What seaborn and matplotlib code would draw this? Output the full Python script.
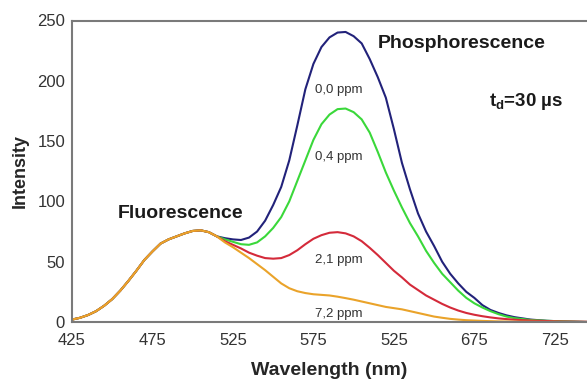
import matplotlib
matplotlib.use('Agg')
import matplotlib.pyplot as plt
import numpy as np
import pandas as pd
import seaborn as sns

sns.set_style('white')
plt.rcParams['font.family'] = ['Liberation Sans', 'DejaVu Sans']
plt.rcParams['mathtext.fontset'] = 'custom'
plt.rcParams['mathtext.rm'] = 'Liberation Sans'
plt.rcParams['mathtext.bf'] = 'Liberation Sans:bold'

# wavelength grid (nm)
wavelength = [425, 430, 435, 440, 445, 450, 455, 460, 465, 470, 475, 480, 485, 490,
              495, 500, 505, 510, 515, 520, 525, 530, 535, 540, 545, 550, 555, 560,
              565, 570, 575, 580, 585, 590, 595, 600, 605, 610, 615, 620, 625, 630,
              635, 640, 645, 650, 655, 660, 665, 670, 675, 680, 685, 690, 695, 700,
              710, 720, 730, 745]

# shared fluorescence band, 425..515 nm
fluor = [2, 3.5, 5.8, 9, 13.5, 19, 26, 34, 42.5, 51.5, 58.5, 65, 68.5, 71,
         73.5, 75.5, 76, 74.5, 71]

ppm_0_0 = fluor + [69.5, 68.5, 68, 70, 75, 84, 97, 112, 134, 163, 193, 214, 228, 236,
                   240, 240.5, 237, 231, 218, 203, 186, 160, 132, 110, 90, 75, 63, 50,
                   40, 32, 25, 20, 14, 10, 7.5, 5.5, 4, 2, 1, 0.5, 0]
ppm_0_4 = fluor + [68.5, 66.5, 64.5, 64, 66, 71, 78, 87, 100, 117, 134, 151, 164, 172,
                   176.5, 177, 174, 168, 157, 141, 124, 109, 95, 82, 71, 59, 49, 40,
                   33, 26, 20, 15.5, 12, 9, 6.5, 4.5, 3.2, 1.7, 1, 0.5, 0]
ppm_2_1 = fluor + [67, 64, 61, 57.5, 55, 53, 52.5, 53, 55.5, 59.5, 64.5, 69, 72, 74,
                   74.5, 73.5, 71, 67, 61.5, 55.5, 49, 42.5, 37, 31, 26.5, 22, 18.5, 15,
                   12, 9.5, 7.5, 6, 4.8, 3.8, 3, 2.4, 1.9, 1.2, 0.8, 0.4, 0.2]
ppm_7_2 = fluor + [66, 62, 57.5, 53, 48, 43, 37.5, 32, 28, 25.5, 24, 23, 22.5, 22,
                   21, 19.8, 18.5, 17, 15.5, 14, 12.5, 11.5, 10.5, 9, 7.5, 6, 4.5, 3.5,
                   2.6, 2, 1.5, 1.2, 0.9, 0.7, 0.5, 0.4, 0.3, 0.2, 0.1, 0.1, 0]

series_names = ['0,0 ppm', '0,4 ppm', '2,1 ppm', '7,2 ppm']
series_values = [ppm_0_0, ppm_0_4, ppm_2_1, ppm_7_2]
colors = ['#22227a', '#3ad83a', '#d42a3a', '#eaa32a']

x_ticks = [425, 475, 525, 575, 625, 675, 725]
x_tick_labels = ['425', '475', '525', '575', '525', '675', '725']
y_ticks = [0, 50, 100, 150, 200, 250]

df = pd.concat([pd.DataFrame({'wavelength': wavelength, 'intensity': v, 'series': n})
                for n, v in zip(series_names, series_values)], ignore_index=True)

fig = plt.figure(figsize=(5.87, 3.8), dpi=100)
ax = fig.add_axes([72 / 587, 58 / 380, 1 - 72 / 587, 301.5 / 380])
sns.lineplot(data=df, x='wavelength', y='intensity', hue='series',
             hue_order=series_names, palette=colors, linewidth=1.5,
             legend=False, ax=ax)

ax.set_xlim(425, 745)
ax.set_ylim(0, 250)
ax.set_xticks(x_ticks)
ax.set_xticklabels(x_tick_labels)
ax.set_yticks(y_ticks)
ax.tick_params(axis='both', direction='out', length=3, width=1, colors='#777777',
               labelcolor='#333333', labelsize=12, pad=2)
ax.tick_params(axis='x', pad=5)
for side in ['left', 'bottom', 'top']:
    ax.spines[side].set_color('#7a7a7a')
    ax.spines[side].set_linewidth(1.5)
ax.spines['right'].set_visible(False)

ax.set_xlabel('Wavelength (nm)', fontsize=14, fontweight='bold', labelpad=10)
ax.set_ylabel('Intensity', fontsize=13, fontweight='bold', labelpad=6)

# annotations
kw = dict(fontsize=14, fontweight='bold', ha='left', va='center', color='#1a1a1a')
ax.annotate('Phosphorescence', xy=(378 / 587, 1 - 44 / 380), xycoords='figure fraction', **kw)
ax.annotate('Fluorescence', xy=(118 / 587, 1 - 213 / 380), xycoords='figure fraction', **kw)
ax.annotate(r'$\mathbf{t_d}$=30 µs', xy=(489 / 587, 1 - 101 / 380),
            xycoords='figure fraction', fontsize=13.5, fontweight='bold',
            ha='left', va='center', color='#1a1a1a')
for name, ypx in zip(series_names, [90, 157, 260, 314]):
    ax.annotate(name, xy=(315 / 587, 1 - ypx / 380), xycoords='figure fraction',
                fontsize=9.5, ha='left', va='center', color='#333333')

fig.savefig('out.png', dpi=100)
